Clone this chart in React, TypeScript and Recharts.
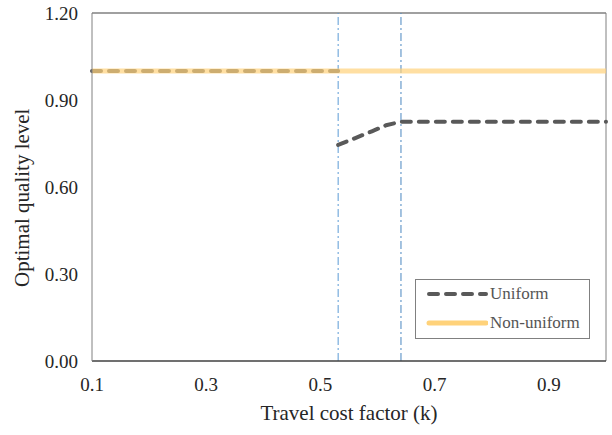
import React from 'react';
import { LineChart, Line, XAxis, YAxis, ReferenceLine } from 'recharts';

// travel cost factor thresholds
const kLow = 0.531;
const kHigh = 0.641;

const xTicks = [0.1, 0.3, 0.5, 0.7, 0.9];
const yTicks = [0, 0.3, 0.6, 0.9, 1.2];

const uniformA = [
  { k: 0.1, q: 1.0 },
  { k: 0.531, q: 1.0 },
];
const uniformB = [
  { k: 0.531, q: 0.745 },
  { k: 0.56, q: 0.768 },
  { k: 0.59, q: 0.792 },
  { k: 0.615, q: 0.813 },
  { k: 0.641, q: 0.825 },
  { k: 0.8, q: 0.825 },
  { k: 1.0, q: 0.825 },
];
const nonUniform = [
  { k: 0.1, q: 1.0 },
  { k: 1.0, q: 1.0 },
];

const font = '"Liberation Serif", "Times New Roman", serif';
const GRAY = '#595959';
const YELLOW = '#FFD27A';

export default function App() {
  return (
    <div style={{ position: 'absolute', left: 0, top: 0, width: 612, height: 435, background: '#fff', fontFamily: font }}>
      <LineChart width={612} height={435} margin={{ top: 13, right: 6, left: 0, bottom: 0 }}>
        <XAxis
          type="number"
          dataKey="k"
          domain={[0.1, 1.0]}
          ticks={xTicks}
          allowDuplicatedCategory={false}
          height={74}
          tickLine={false}
          axisLine={{ stroke: '#404040', strokeWidth: 1.5 }}
          tick={{ fontFamily: font, fontSize: 19, fill: '#262626' }}
          tickFormatter={(v: number) => v.toFixed(1)}
          dy={9}
          label={{ value: 'Travel cost factor (k)', position: 'insideBottom', offset: 15, style: { fontFamily: font, fontSize: 21, fill: '#262626' } }}
        />
        <YAxis
          type="number"
          domain={[0, 1.2]}
          ticks={yTicks}
          width={92}
          tickLine={false}
          axisLine={{ stroke: '#808080', strokeWidth: 1 }}
          tick={{ fontFamily: font, fontSize: 19, fill: '#262626' }}
          tickFormatter={(v: number) => v.toFixed(2)}
          dx={-6}
          label={{ value: 'Optimal quality level', angle: -90, position: 'insideLeft', offset: 22, dy: 100, style: { fontFamily: font, fontSize: 21, fill: '#262626' } }}
        />
        <ReferenceLine y={1.2} stroke="#808080" strokeWidth={1.5} />
        <ReferenceLine x={1.0} stroke="#808080" strokeWidth={1} />
        <ReferenceLine x={kLow} stroke="#5B9BD5" strokeWidth={1} strokeDasharray="8 3 2 3" />
        <ReferenceLine x={kHigh} stroke="#4A86C0" strokeWidth={1} strokeDasharray="8 3 2 3" />
        <Line data={uniformA} dataKey="q" type="linear" stroke={GRAY} strokeWidth={4} strokeDasharray="9 8" strokeLinecap="round" dot={false} isAnimationActive={false} />
        <Line data={uniformB} dataKey="q" type="linear" stroke={GRAY} strokeWidth={4} strokeDasharray="9 8" strokeLinecap="round" dot={false} isAnimationActive={false} />
        <Line data={nonUniform} dataKey="q" type="linear" stroke={YELLOW} strokeOpacity={0.7} strokeWidth={5} dot={false} isAnimationActive={false} />
      </LineChart>
      <div style={{ position: 'absolute', left: 415, top: 279, width: 175, height: 60, border: '1px solid #808080', background: '#fff', boxSizing: 'border-box' }}>
        <div style={{ position: 'absolute', left: 10, top: 4, display: 'flex', alignItems: 'center', fontSize: 17, color: '#555' }}>
          <svg width={62} height={10}>
            <line x1={3} y1={5} x2={60} y2={5} stroke={GRAY} strokeWidth={4} strokeDasharray="9 8" strokeLinecap="round" />
          </svg>
          <span style={{ marginLeft: 2 }}>Uniform</span>
        </div>
        <div style={{ position: 'absolute', left: 10, top: 33, display: 'flex', alignItems: 'center', fontSize: 17, color: '#555' }}>
          <svg width={62} height={10}>
            <line x1={3} y1={5} x2={60} y2={5} stroke={YELLOW} strokeWidth={5} strokeLinecap="round" />
          </svg>
          <span style={{ marginLeft: 2 }}>Non-uniform</span>
        </div>
      </div>
    </div>
  );
}
